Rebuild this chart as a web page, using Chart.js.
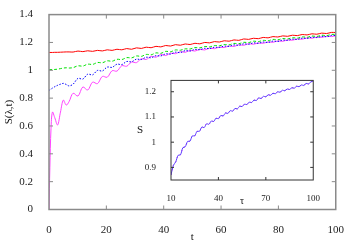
<!DOCTYPE html>
<html><head><meta charset="utf-8">
<script src="https://cdn.jsdelivr.net/npm/chart.js@4/dist/chart.umd.min.js"></script>
<style>
html,body{margin:0;padding:0;background:#fff;}
#wrap{position:relative;width:350px;height:245px;overflow:hidden;}
#main{position:absolute;left:0;top:0;}
#inset{position:absolute;left:120px;top:68px;}
</style></head><body>
<div id="wrap"><canvas id="main" width="350" height="245"></canvas><canvas id="inset" width="205" height="140"></canvas></div>
<script>
// ---- main plot data ----
const tMain = [0,0.3,0.7,1.2,2,3,4,5,6,7,
  8.4,10.1,11.8,13.5,15.2,16.9,18.6,20.3,22,23.7,25.4,27.1,28.8,30.5,32.2,33.9,35.6,37.3,39,40.7,
  42.4,44.1,45.8,47.5,49.2,50.9,52.6,54.3,56,57.7,59.4,61.1,62.8,64.5,66.2,67.9,69.6,71.3,73,74.7,
  76.4,78.1,79.8,81.5,83.2,84.9,86.6,88.3,90,91.7,93.4,95.1,96.8,98.5,100];
const redS = [1.128,1.128,1.128,1.128,1.129,1.129,1.130,1.131,1.132,1.132,
  1.131,1.138,1.134,1.140,1.136,1.143,1.139,1.147,1.143,1.151,1.147,1.156,1.151,1.161,1.157,1.166,1.162,1.172,1.168,1.178,
  1.174,1.184,1.180,1.189,1.185,1.194,1.190,1.200,1.197,1.206,1.203,1.212,1.209,1.218,1.215,1.225,1.222,1.230,1.227,1.236,
  1.233,1.242,1.239,1.247,1.244,1.252,1.249,1.257,1.254,1.262,1.259,1.267,1.264,1.272,1.271];
const greenS = [1.005,1.005,1.005,1.006,1.006,1.008,1.012,1.016,1.018,1.016,
  1.019,1.032,1.030,1.044,1.042,1.056,1.054,1.068,1.065,1.079,1.077,1.091,1.089,1.103,1.100,1.114,1.111,1.125,1.122,1.136,
  1.133,1.146,1.144,1.154,1.153,1.163,1.161,1.171,1.168,1.178,1.176,1.185,1.183,1.193,1.191,1.201,1.199,1.209,1.206,1.215,
  1.212,1.222,1.219,1.228,1.225,1.234,1.231,1.240,1.237,1.246,1.243,1.252,1.249,1.258,1.258];
const blueS = [0.855,0.860,0.865,0.872,0.882,0.892,0.900,0.906,0.898,0.888,
  0.900,0.942,0.937,0.972,0.967,0.999,0.995,1.023,1.021,1.044,1.041,1.063,1.061,1.080,1.077,1.094,1.090,1.105,1.103,1.118,
  1.116,1.130,1.127,1.141,1.138,1.150,1.148,1.158,1.156,1.166,1.164,1.174,1.172,1.182,1.180,1.190,1.187,1.197,1.194,1.203,
  1.200,1.210,1.207,1.217,1.215,1.224,1.222,1.231,1.229,1.238,1.235,1.244,1.241,1.250,1.250];
const magentaS = [0,0.30,0.58,0.70,0.66,0.607,0.70,0.786,0.75,0.775,
  0.835,0.815,0.880,0.858,0.915,0.904,0.956,0.950,0.997,0.994,1.033,1.029,1.059,1.055,1.083,1.078,1.100,1.094,1.113,1.106,
  1.123,1.119,1.134,1.129,1.143,1.138,1.150,1.146,1.159,1.155,1.167,1.163,1.175,1.171,1.183,1.179,1.191,1.187,1.196,1.194,
  1.203,1.201,1.211,1.208,1.218,1.216,1.225,1.223,1.233,1.230,1.239,1.236,1.245,1.242,1.248];
const xTicksMain = [0,20,40,60,80,100];
const yTicksMain = [0,0.2,0.4,0.6,0.8,1,1.2,1.4];

// ---- inset data ----
const tauInset = [10,11.5,13,14.5,16,17.5,19,20.5,22,23.5,25,26.5,28,29.5,31,32.5,34,35.5,37,38.5,40,
  41.5,43,44.5,46,47.5,49,50.5,52,53.5,55,56.5,58,59.5,61,62.5,64,65.5,67,68.5,70,
  71.5,73,74.5,76,77.5,79,80.5,82,83.5,85,86.5,88,89.5,91,92.5,94,95.5,97,98.5,100];
const sInset = [0.870,0.908,0.922,0.948,0.950,0.978,0.982,1.003,1.004,1.025,1.025,1.043,1.043,1.060,1.058,1.073,1.071,1.084,1.082,1.095,1.093,
  1.106,1.104,1.116,1.114,1.125,1.123,1.134,1.132,1.143,1.141,1.151,1.149,1.159,1.157,1.167,1.165,1.176,1.173,1.182,1.180,
  1.188,1.186,1.194,1.192,1.200,1.198,1.206,1.204,1.211,1.209,1.216,1.214,1.222,1.220,1.227,1.225,1.233,1.231,1.239,1.243];
const xTicksInset = [10,40,70,100];
const yTicksInset = [0.9,1,1.1,1.2];

const SERIF = "'Liberation Serif','Times New Roman',serif";
const pts = (xs, ys) => xs.map((x, i) => ({x: x, y: ys[i]}));
const fmt = v => String(Number(v.toFixed(2)));

const framePlugin = {
  id: 'frame',
  afterDraw(chart, args, o) {
    const {ctx, chartArea: a} = chart;
    const xs = chart.scales.x, ys = chart.scales.y;
    ctx.save();
    ctx.strokeStyle = o.color; ctx.lineWidth = o.width;
    ctx.strokeRect(a.left, a.top, a.right - a.left, a.bottom - a.top);
    ctx.lineWidth = o.tickWidth;
    ctx.beginPath();
    xs.ticks.forEach(t => {
      const p = xs.getPixelForValue(t.value);
      if (p <= a.left + 1 || p >= a.right - 1) return;
      ctx.moveTo(p, a.bottom); ctx.lineTo(p, a.bottom - o.len);
      ctx.moveTo(p, a.top); ctx.lineTo(p, a.top + o.len);
    });
    ys.ticks.forEach(t => {
      const p = ys.getPixelForValue(t.value);
      if (p <= a.top + 1 || p >= a.bottom - 1) return;
      ctx.moveTo(a.left, p); ctx.lineTo(a.left + o.len, p);
      ctx.moveTo(a.right, p); ctx.lineTo(a.right - o.len, p);
    });
    ctx.stroke();
    if (o.label) {
      ctx.fillStyle = '#111';
      ctx.font = o.labelFont;
      ctx.textAlign = 'center'; ctx.textBaseline = 'middle';
      ctx.fillText(o.label, a.left + o.labelDx, (a.top + a.bottom) / 2);
    }
    ctx.restore();
  }
};

new Chart(document.getElementById('main'), {
  type: 'line',
  data: { datasets: [
    {data: pts(tMain, redS), borderColor: '#ff0000', borderWidth: 1},
    {data: pts(tMain, greenS), borderColor: '#00e000', borderWidth: 1, borderDash: [3, 2]},
    {data: pts(tMain, blueS), borderColor: '#0000ff', borderWidth: 1, borderDash: [1.5, 1.5]},
    {data: pts(tMain, magentaS), borderColor: '#ff44ff', borderWidth: 1}
  ]},
  options: {
    responsive: false, devicePixelRatio: 1, animation: false,
    layout: {padding: {top: 14, right: 12, left: 0, bottom: 0}},
    elements: {point: {radius: 0}, line: {tension: 0.35}},
    plugins: {legend: {display: false}, tooltip: {enabled: false},
      frame: {color: '#8a8a8a', width: 1.5, tickWidth: 1, len: 4}},
    scales: {
      x: {type: 'linear', min: 0, max: 100,
        afterFit: s => { s.height = 35.5; },
        afterBuildTicks: s => { s.ticks = xTicksMain.map(v => ({value: v})); },
        grid: {display: false}, border: {display: false},
        ticks: {color: '#222', padding: 6, maxRotation: 0, font: {family: SERIF, size: 11}, callback: v => fmt(v)},
        title: {display: true, text: 't', color: '#111', padding: {top: 0, bottom: 1}, font: {family: SERIF, size: 11}}},
      y: {type: 'linear', min: 0, max: 1.4,
        afterFit: s => { s.width = 49; },
        afterBuildTicks: s => { s.ticks = yTicksMain.map(v => ({value: v})); },
        grid: {display: false}, border: {display: false},
        ticks: {color: '#222', padding: 8, font: {family: SERIF, size: 11}, callback: v => fmt(v)},
        title: {display: true, text: 'S(λ,t)', color: '#111', padding: {top: 3, bottom: 0}, font: {family: SERIF, size: 11}}}
    }
  },
  plugins: [framePlugin]
});

new Chart(document.getElementById('inset'), {
  type: 'line',
  data: { datasets: [
    {data: pts(tauInset, sInset), borderColor: '#5a3cff', borderWidth: 1},
    {data: pts(tauInset, sInset), borderColor: '#e050f0', borderWidth: 1, borderDash: [1.5, 3]}
  ]},
  options: {
    responsive: false, devicePixelRatio: 1, animation: false,
    layout: {padding: {top: 10, right: 11, left: 0, bottom: 0}},
    elements: {point: {radius: 0}, line: {tension: 0.3}},
    plugins: {legend: {display: false}, tooltip: {enabled: false},
      frame: {color: '#333', width: 1, tickWidth: 1, len: 3, label: 'S', labelDx: -31, labelFont: "11px 'Liberation Serif', serif"}},
    scales: {
      x: {type: 'linear', min: 10, max: 100,
        afterFit: s => { s.height = 28; },
        afterBuildTicks: s => { s.ticks = xTicksInset.map(v => ({value: v})); },
        grid: {display: false}, border: {display: false},
        ticks: {color: '#222', padding: 5, maxRotation: 0, font: {family: SERIF, size: 9}, callback: v => fmt(v)},
        title: {display: true, text: 'τ', color: '#111', padding: {top: 0, bottom: 1}, font: {family: SERIF, size: 10}}},
      y: {type: 'linear', min: 0.85, max: 1.245,
        afterFit: s => { s.width = 51; },
        afterBuildTicks: s => { s.ticks = yTicksInset.map(v => ({value: v})); },
        grid: {display: false}, border: {display: false},
        ticks: {color: '#222', padding: 7, font: {family: SERIF, size: 9}, callback: v => fmt(v)}}
    }
  },
  plugins: [framePlugin]
});
</script>
</body></html>
